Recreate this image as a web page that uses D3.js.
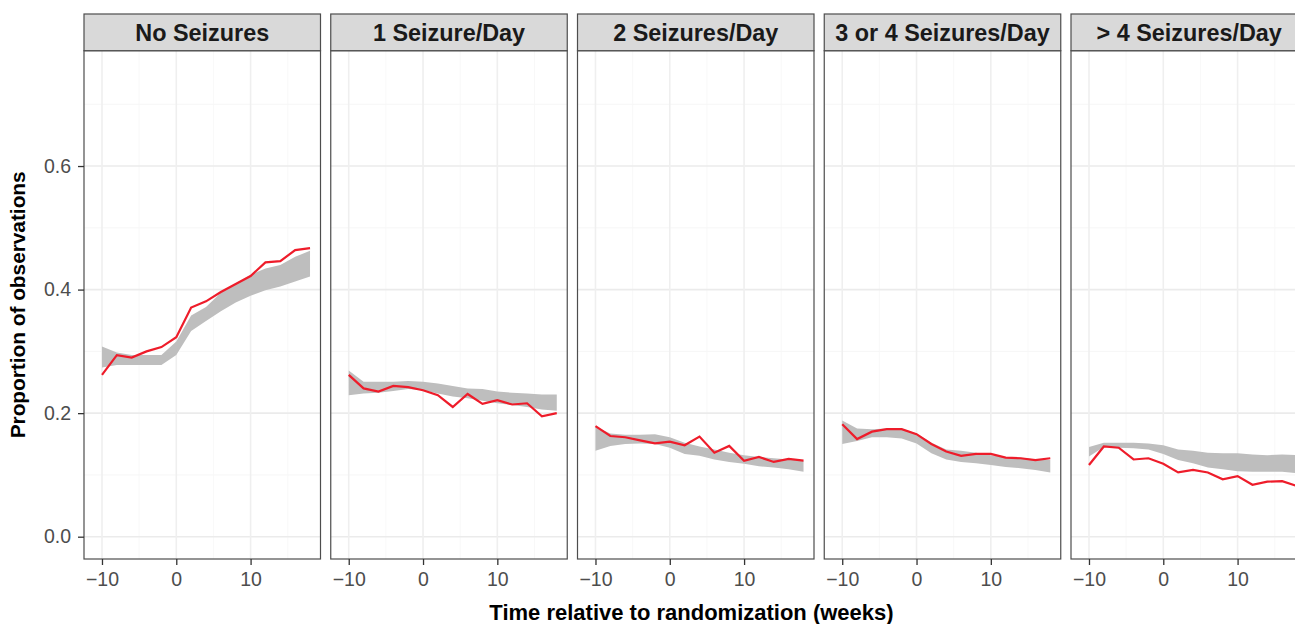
<!DOCTYPE html>
<html>
<head>
<meta charset="utf-8">
<script src="https://cdn.jsdelivr.net/npm/d3@7"></script>
<style>
  body { margin: 0; background: #fff; }
  svg text { font-family: "Liberation Sans", Arial, Helvetica, sans-serif; }
  .tick text { fill: #4d4d4d; font-size: 19.5px; }
  .tick line { stroke: #333; }
</style>
</head>
<body>
<div id="vis"></div>
<script>
// facet labels and weeks
const panels = ["No Seizures", "1 Seizure/Day", "2 Seizures/Day", "3 or 4 Seizures/Day", "> 4 Seizures/Day"];
const weeks = [-10, -8, -6, -4, -2, 0, 2, 4, 6, 8, 10, 12, 14, 16, 18];

// observed proportions (red line)
const obsNone  = [0.262, 0.294, 0.290, 0.300, 0.307, 0.323, 0.371, 0.381, 0.396, 0.409, 0.422, 0.444, 0.446, 0.464, 0.467];
const obsOne   = [0.262, 0.240, 0.235, 0.244, 0.242, 0.237, 0.229, 0.210, 0.231, 0.215, 0.221, 0.214, 0.216, 0.195, 0.200];
const obsTwo   = [0.179, 0.163, 0.161, 0.156, 0.151, 0.154, 0.148, 0.162, 0.136, 0.147, 0.123, 0.129, 0.121, 0.126, 0.123];
const obsThree = [0.182, 0.158, 0.170, 0.174, 0.174, 0.166, 0.150, 0.138, 0.131, 0.134, 0.134, 0.128, 0.127, 0.124, 0.127];
const obsMore  = [0.116, 0.146, 0.144, 0.125, 0.127, 0.118, 0.104, 0.108, 0.104, 0.093, 0.098, 0.084, 0.089, 0.090, 0.082];

// simulated band (grey), lower and upper edges
const lowNone   = [0.274, 0.278, 0.278, 0.278, 0.278, 0.294, 0.333, 0.349, 0.365, 0.379, 0.390, 0.399, 0.405, 0.413, 0.421];
const highNone  = [0.308, 0.298, 0.294, 0.294, 0.294, 0.316, 0.358, 0.372, 0.395, 0.410, 0.424, 0.434, 0.440, 0.453, 0.463];
const lowOne    = [0.229, 0.232, 0.233, 0.236, 0.239, 0.237, 0.232, 0.227, 0.224, 0.220, 0.216, 0.213, 0.210, 0.206, 0.204];
const highOne   = [0.269, 0.251, 0.251, 0.251, 0.252, 0.251, 0.248, 0.244, 0.240, 0.239, 0.235, 0.233, 0.232, 0.230, 0.230];
const lowTwo    = [0.139, 0.147, 0.150, 0.151, 0.150, 0.144, 0.134, 0.131, 0.125, 0.121, 0.118, 0.114, 0.112, 0.109, 0.105];
const highTwo   = [0.178, 0.167, 0.165, 0.165, 0.166, 0.161, 0.152, 0.146, 0.141, 0.136, 0.132, 0.129, 0.127, 0.125, 0.123];
const lowThree  = [0.150, 0.155, 0.161, 0.161, 0.159, 0.151, 0.135, 0.125, 0.121, 0.119, 0.116, 0.113, 0.111, 0.108, 0.104];
const highThree = [0.188, 0.175, 0.174, 0.175, 0.175, 0.167, 0.152, 0.141, 0.139, 0.136, 0.132, 0.129, 0.128, 0.125, 0.124];
const lowMore   = [0.130, 0.145, 0.144, 0.143, 0.141, 0.134, 0.124, 0.119, 0.112, 0.109, 0.106, 0.105, 0.105, 0.105, 0.103];
const highMore  = [0.145, 0.152, 0.152, 0.152, 0.151, 0.148, 0.141, 0.139, 0.136, 0.135, 0.135, 0.133, 0.132, 0.133, 0.132];

const xTicks = [-10, 0, 10];
const xMinor = [-5, 5, 15];
const yTicks = [0, 0.2, 0.4, 0.6];
const yMinor = [0.1, 0.3, 0.5, 0.7];

const observed = [obsNone, obsOne, obsTwo, obsThree, obsMore];
const lows = [lowNone, lowOne, lowTwo, lowThree, lowMore];
const highs = [highNone, highOne, highTwo, highThree, highMore];

const width = 1295, height = 624;
const panelLeft = 84, panelStep = 246.75, panelWidth = 236.5;
const stripTop = 14, panelTop = 50.7, panelBottom = 559;

const svg = d3.select("#vis").append("svg")
  .attr("width", width)
  .attr("height", height);

const x = d3.scaleLinear().domain([-12.42, 19.41]).range([0, panelWidth]);
const y = d3.scaleLinear().domain([-0.0361, 0.7867]).range([panelBottom - panelTop, 0]);

const area = d3.area()
  .x(d => x(d.week))
  .y0(d => y(d.low))
  .y1(d => y(d.high));

const line = d3.line()
  .x(d => x(d.week))
  .y(d => y(d.obs));

panels.forEach(function (name, i) {
  const rows = weeks.map((w, j) => ({ week: w, obs: observed[i][j], low: lows[i][j], high: highs[i][j] }));
  const g = svg.append("g")
    .attr("transform", "translate(" + (panelLeft + i * panelStep) + "," + panelTop + ")");
  const h = panelBottom - panelTop;

  // grid
  g.selectAll(".ymin").data(yMinor).enter().append("line")
    .attr("x1", 0).attr("x2", panelWidth)
    .attr("y1", y).attr("y2", y)
    .attr("stroke", "#f4f4f4").attr("stroke-width", 0.8);
  g.selectAll(".xmin").data(xMinor).enter().append("line")
    .attr("x1", x).attr("x2", x)
    .attr("y1", 0).attr("y2", h)
    .attr("stroke", "#f6f6f6").attr("stroke-width", 0.8);
  g.selectAll(".ymaj").data(yTicks).enter().append("line")
    .attr("x1", 0).attr("x2", panelWidth)
    .attr("y1", y).attr("y2", y)
    .attr("stroke", "#ebebeb").attr("stroke-width", 1.6);
  g.selectAll(".xmaj").data(xTicks).enter().append("line")
    .attr("x1", x).attr("x2", x)
    .attr("y1", 0).attr("y2", h)
    .attr("stroke", "#efefef").attr("stroke-width", 1.6);

  g.append("path").datum(rows)
    .attr("d", area)
    .attr("fill", "#bebebe");

  g.append("path").datum(rows)
    .attr("d", line)
    .attr("fill", "none")
    .attr("stroke", "#ee1c2a")
    .attr("stroke-width", 2.2);

  g.append("rect")
    .attr("width", panelWidth).attr("height", h)
    .attr("fill", "none").attr("stroke", "#4d4d4d").attr("stroke-width", 1.2);

  // x axis
  const xa = g.append("g")
    .attr("transform", "translate(0," + h + ")")
    .call(d3.axisBottom(x).tickValues(xTicks).tickSize(6).tickPadding(7.5).tickFormat(d3.format("d")));
  xa.select(".domain").remove();
  xa.selectAll(".tick line").attr("stroke-width", 1.3);

  if (i === 0) {
    const ya = g.append("g")
      .call(d3.axisLeft(y).tickValues(yTicks).tickSize(6).tickPadding(7).tickFormat(d3.format(".1f")));
    ya.select(".domain").remove();
    ya.selectAll(".tick line").attr("stroke-width", 1.3);
  }

  // strip
  const strip = svg.append("g")
    .attr("transform", "translate(" + (panelLeft + i * panelStep) + "," + stripTop + ")");
  strip.append("rect")
    .attr("width", panelWidth).attr("height", panelTop - stripTop)
    .attr("fill", "#d9d9d9").attr("stroke", "#4d4d4d").attr("stroke-width", 1.2);
  strip.append("text")
    .attr("x", panelWidth / 2).attr("y", 26.8)
    .attr("text-anchor", "middle")
    .attr("font-size", "23.4px").attr("font-weight", "bold")
    .attr("fill", "#1a1a1a")
    .text(name);
});

svg.append("text")
  .attr("x", 691.5).attr("y", 620)
  .attr("text-anchor", "middle")
  .attr("font-size", "22px").attr("font-weight", "bold")
  .attr("fill", "#000")
  .text("Time relative to randomization (weeks)");

svg.append("text")
  .attr("transform", "translate(25," + ((panelTop + panelBottom) / 2) + ") rotate(-90)")
  .attr("text-anchor", "middle")
  .attr("font-size", "20.8px").attr("font-weight", "bold")
  .attr("fill", "#000")
  .text("Proportion of observations");
</script>
</body>
</html>
